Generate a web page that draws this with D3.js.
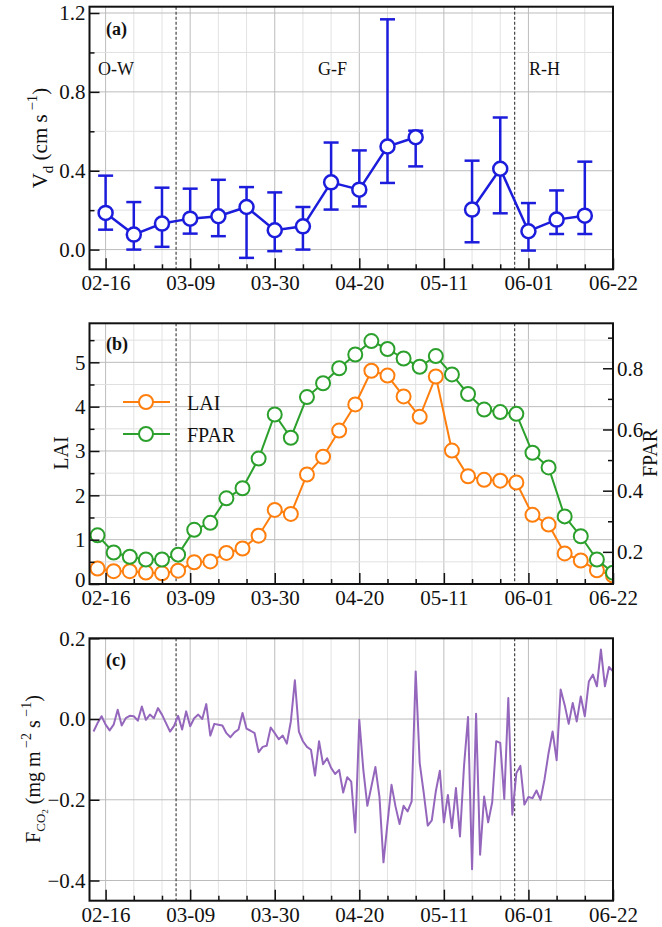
<!DOCTYPE html>
<html>
<head>
<meta charset="utf-8">
<script src="https://cdn.jsdelivr.net/npm/d3@7"></script>
<style>
  body { margin: 0; background: #fff; }
  svg { display: block; }
</style>
</head>
<body>
<svg id="chart" width="662" height="927"></svg>
<script>
// ---------- data ----------
const year = 2019;
const tickLabels = ["02-16", "03-09", "03-30", "04-20", "05-11", "06-01", "06-22"];
const phaseBounds = ["03-05 12:00", "05-28 14:00"];
const phaseNames = ["O-W", "G-F", "R-H"];
const phaseNameDates = ["02-18 14:00", "04-13 08:00", "06-05 00:00"];

// (a) weekly deposition velocity (cm/s), mean with lower/upper bounds
const vdDates = ["02-16", "02-23", "03-02", "03-09", "03-16", "03-23", "03-30", "04-06", "04-13",
                 "04-20", "04-27", "05-04", "05-11", "05-18", "05-25", "06-01", "06-08", "06-15"];
const vdMean = [0.186, 0.076, 0.132, 0.157, 0.169, 0.216, 0.098, 0.118, 0.341,
                0.304, 0.523, 0.570, null, 0.203, 0.410, 0.093, 0.152, 0.172];
const vdLow  = [0.101, 0.000, 0.014, 0.081, 0.068, -0.042, -0.008, 0.000, 0.203,
                0.219, 0.338, 0.422, null, 0.037, 0.184, -0.005, 0.079, 0.079];
const vdHigh = [0.375, 0.241, 0.314, 0.309, 0.354, 0.317, 0.290, 0.216, 0.543,
                0.503, 1.168, 0.603, null, 0.451, 0.670, 0.236, 0.300, 0.446];

// (b) 4-day LAI and FPAR
const vegDates = ["02-14", "02-18", "02-22", "02-26", "03-02", "03-06", "03-10", "03-14", "03-18",
                  "03-22", "03-26", "03-30", "04-03", "04-07", "04-11", "04-15", "04-19", "04-23",
                  "04-27", "05-01", "05-05", "05-09", "05-13", "05-17", "05-21", "05-25", "05-29",
                  "06-02", "06-06", "06-10", "06-14", "06-18", "06-22"];
const lai  = [0.35, 0.29, 0.29, 0.26, 0.24, 0.30, 0.49, 0.51, 0.70, 0.80, 1.09, 1.67, 1.58,
              2.47, 2.87, 3.46, 4.05, 4.81, 4.70, 4.23, 3.77, 4.68, 3.01, 2.43, 2.35, 2.33,
              2.29, 1.56, 1.34, 0.69, 0.53, 0.31, 0.19];
const fpar = [0.254, 0.198, 0.184, 0.175, 0.175, 0.191, 0.272, 0.295, 0.375, 0.408, 0.505,
              0.649, 0.573, 0.706, 0.751, 0.800, 0.845, 0.889, 0.863, 0.832, 0.805, 0.840,
              0.780, 0.716, 0.665, 0.657, 0.651, 0.524, 0.476, 0.316, 0.251, 0.175, 0.132];

// (c) daily CO2 flux (mg m-2 s-1), starting 02-13
const fco2Start = "02-13";
const fco2 = [
  -0.031, -0.010, 0.007, -0.014, -0.028, -0.014, 0.023, -0.016, 0.002, 0.008,
   0.007, -0.004, 0.031, -0.002, 0.011, 0.002, 0.027, 0.011, -0.010, -0.031,
  -0.017, 0.008, -0.026, 0.019, -0.018, 0.002, 0.011, 0.000, 0.037, -0.041,
  -0.012, -0.014, -0.016, -0.035, -0.045, -0.033, -0.026, 0.015, -0.024, -0.029,
  -0.035, -0.082, -0.069, -0.066, -0.021, -0.035, -0.050, -0.041, -0.061, -0.006,
   0.096, -0.031, -0.055, -0.069, -0.076, -0.140, -0.055, -0.112, -0.097, -0.121,
  -0.136, -0.126, -0.182, -0.144, -0.155, -0.281, -0.002, -0.126, -0.215, -0.167,
  -0.119, -0.192, -0.355, -0.258, -0.163, -0.217, -0.260, -0.215, -0.229, -0.204,
   0.118, -0.109, -0.183, -0.264, -0.251, -0.179, -0.128, -0.256, -0.188, -0.270,
  -0.171, -0.291, -0.117, 0.005, -0.372, 0.013, -0.336, -0.192, -0.256, -0.206,
  -0.055, -0.059, -0.198, 0.052, -0.237, -0.134, -0.116, -0.212, -0.193, -0.196,
  -0.177, -0.200, -0.149, -0.084, -0.031, -0.102, 0.073, 0.035, -0.012, 0.040,
  -0.006, 0.056, 0.007, 0.093, 0.110, 0.081, 0.172, 0.081, 0.129, 0.118
];

// ---------- helpers ----------
const SERIF = '"Liberation Serif", "Times New Roman", Times, serif';
const md = s => d3.utcParse("%Y-%m-%d")(`${year}-${s}`);
const mdh = s => d3.utcParse("%Y-%m-%d %H:%M")(`${year}-${s}`);

const svg = d3.select("#chart").attr("font-family", SERIF);

const x = d3.scaleUtc().domain([md("02-12"), md("06-22")]).range([89.5, 613]);
const [xl, xr] = x.range();
const majorTicks = tickLabels.map(md);
const isMajor = d => majorTicks.some(m => +m === +d);
const weekTicks = d3.utcDay.range(md("02-16"), md("06-23"), 7);
const minorTicks = weekTicks.filter(d => !isMajor(d));

function styleAxis(g, size) {
  g.select(".domain").remove();
  g.attr("font-family", SERIF).attr("font-size", size);
  g.selectAll(".tick line").attr("stroke", "#111").attr("stroke-width", 1.5);
  g.selectAll(".tick text").attr("fill", "#111");
}

function drawFrame(top, bottom, y, opt) {
  const g = svg.append("g");
  // vertical weekly grid
  g.append("g").selectAll("line").data(weekTicks).join("line")
    .attr("x1", d => x(d)).attr("x2", d => x(d))
    .attr("y1", top).attr("y2", bottom)
    .attr("stroke", d => isMajor(d) ? "#bcbcbc" : "#e2e2e2")
    .attr("stroke-width", 1);
  // horizontal grid
  g.append("g").selectAll("line").data(opt.hMinor).join("line")
    .attr("x1", xl).attr("x2", xr)
    .attr("y1", d => y(d)).attr("y2", d => y(d))
    .attr("stroke", "#e0e0e0").attr("stroke-width", 1);
  g.append("g").selectAll("line").data(opt.hMajor).join("line")
    .attr("x1", xl).attr("x2", xr)
    .attr("y1", d => y(d)).attr("y2", d => y(d))
    .attr("stroke", "#bcbcbc").attr("stroke-width", 1);
  // phase boundaries
  g.append("g").selectAll("line").data(phaseBounds.map(mdh)).join("line")
    .attr("x1", d => x(d)).attr("x2", d => x(d))
    .attr("y1", top).attr("y2", bottom)
    .attr("stroke", "#333").attr("stroke-width", 1.1)
    .attr("stroke-dasharray", "3,2");
  return g;
}

function drawAxes(top, bottom, y, opt) {
  // bottom axis, ticks pointing inward
  const bx = svg.append("g").attr("transform", `translate(0,${bottom})`)
    .call(d3.axisBottom(x).tickValues(majorTicks).tickSize(-11).tickPadding(6)
      .tickFormat((d, i) => tickLabels[i]));
  styleAxis(bx, 21);
  const bxm = svg.append("g").attr("transform", `translate(0,${bottom})`)
    .call(d3.axisBottom(x).tickValues(minorTicks).tickSize(-5).tickFormat(""));
  styleAxis(bxm, 21);
  // left axis
  const ly = svg.append("g").attr("transform", `translate(${xl},0)`)
    .call(d3.axisLeft(y).tickValues(opt.yMajor).tickSize(-10).tickPadding(4).tickFormat(opt.fmt));
  styleAxis(ly, 21);
  if (opt.lowLabelLift) {
    // the lowest label sits just above the date labels
    ly.selectAll(".tick text").filter(d => d === opt.yMajor[0])
      .attr("dy", `${0.32 - opt.lowLabelLift}em`);
  }
  if (opt.yMinor.length) {
    const lym = svg.append("g").attr("transform", `translate(${xl},0)`)
      .call(d3.axisLeft(y).tickValues(opt.yMinor).tickSize(-5).tickFormat(""));
    styleAxis(lym, 21);
  }
  // border
  svg.append("rect").attr("x", xl).attr("y", top)
    .attr("width", xr - xl).attr("height", bottom - top)
    .attr("fill", "none").attr("stroke", "#111").attr("stroke-width", 2);
}

function panelLabel(txt, yb) {
  svg.append("text").attr("x", 106).attr("y", yb)
    .attr("font-size", 18).attr("font-weight", "bold").attr("fill", "#111").text(txt);
}

// ---------- (a) Vd ----------
{
  const top = 6.7, bottom = 269.3;
  const y = d3.scaleLinear().domain([-0.1, 1.232]).range([bottom, top]);
  drawFrame(top, bottom, y, { hMajor: [0, 0.4, 0.8, 1.2], hMinor: [0.2, 0.6, 1.0] });

  svg.append("g").selectAll("text").data(phaseNames).join("text")
    .attr("x", (d, i) => x(mdh(phaseNameDates[i])))
    .attr("y", 75).attr("text-anchor", "middle")
    .attr("font-size", 18).attr("fill", "#111").text(d => d);

  const blue = "#1c1cdc";
  const rows = vdDates.map((d, i) => ({ date: md(d), m: vdMean[i], lo: vdLow[i], hi: vdHigh[i] }));
  const valid = rows.filter(r => r.m != null);

  svg.append("path").datum(rows)
    .attr("fill", "none").attr("stroke", blue).attr("stroke-width", 2.5)
    .attr("d", d3.line().defined(r => r.m != null).x(r => x(r.date)).y(r => y(r.m)));

  const eb = svg.append("g").attr("stroke", blue).attr("stroke-width", 2.5);
  eb.selectAll(".v").data(valid).join("line")
    .attr("x1", r => x(r.date)).attr("x2", r => x(r.date))
    .attr("y1", r => y(r.lo)).attr("y2", r => y(r.hi));
  eb.selectAll(".ch").data(valid).join("line")
    .attr("x1", r => x(r.date) - 7.5).attr("x2", r => x(r.date) + 7.5)
    .attr("y1", r => y(r.hi)).attr("y2", r => y(r.hi));
  eb.selectAll(".cl").data(valid).join("line")
    .attr("x1", r => x(r.date) - 7.5).attr("x2", r => x(r.date) + 7.5)
    .attr("y1", r => y(r.lo)).attr("y2", r => y(r.lo));

  svg.append("g").selectAll("circle").data(valid).join("circle")
    .attr("cx", r => x(r.date)).attr("cy", r => y(r.m)).attr("r", 7)
    .attr("fill", "#fff").attr("stroke", blue).attr("stroke-width", 2.5);

  drawAxes(top, bottom, y, { yMajor: [0, 0.4, 0.8, 1.2], yMinor: [0.2, 0.6, 1.0], fmt: d3.format(".1f") });
  panelLabel("(a)", 35);

  const t = svg.append("text").attr("transform", `translate(47,138) rotate(-90)`)
    .attr("text-anchor", "middle").attr("font-size", 21).attr("fill", "#111");
  t.append("tspan").text("V");
  t.append("tspan").attr("dy", 6).attr("font-size", 15).text("d");
  t.append("tspan").attr("dy", -6).text(" (cm s");
  t.append("tspan").attr("dy", -10).attr("font-size", 15).text(" \u22121");
  t.append("tspan").attr("dy", 10).text(")");
}

// ---------- (b) LAI & FPAR ----------
{
  const top = 323.3, bottom = 584;
  const y = d3.scaleLinear().domain([0, 5.88]).range([bottom, top]);
  const yF = d3.scaleLinear().domain([0.095, 0.947]).range([bottom, top]);
  drawFrame(top, bottom, y, { hMajor: [1, 2, 3, 4, 5], hMinor: [0.5, 1.5, 2.5, 3.5, 4.5, 5.5] });

  const orange = "#ff7f0e", green = "#2ca02c";
  svg.append("clipPath").attr("id", "clipB").append("rect")
    .attr("x", xl).attr("y", top).attr("width", xr - xl).attr("height", bottom - top);
  const gp = svg.append("g").attr("clip-path", "url(#clipB)");
  const pts = vegDates.map((d, i) => ({ date: md(d), lai: lai[i], fpar: fpar[i] }));

  function series(key, sc, color) {
    gp.append("path").datum(pts).attr("fill", "none").attr("stroke", color).attr("stroke-width", 2)
      .attr("d", d3.line().x(p => x(p.date)).y(p => sc(p[key])));
    gp.append("g").selectAll("circle").data(pts).join("circle")
      .attr("cx", p => x(p.date)).attr("cy", p => sc(p[key])).attr("r", 7)
      .attr("fill", "#fff").attr("stroke", color).attr("stroke-width", 2);
  }
  series("lai", y, orange);
  series("fpar", yF, green);

  drawAxes(top, bottom, y, { yMajor: [0, 1, 2, 3, 4, 5], yMinor: [0.5, 1.5, 2.5, 3.5, 4.5, 5.5],
                             fmt: d3.format("d"), lowLabelLift: 0.2 });
  const ry = svg.append("g").attr("transform", `translate(${xr},0)`)
    .call(d3.axisRight(yF).tickValues([0.2, 0.4, 0.6, 0.8]).tickSize(-10).tickPadding(4).tickFormat(d3.format(".1f")));
  styleAxis(ry, 21);
  const rym = svg.append("g").attr("transform", `translate(${xr},0)`)
    .call(d3.axisRight(yF).tickValues([0.3, 0.5, 0.7, 0.9]).tickSize(-5).tickFormat(""));
  styleAxis(rym, 21);

  // legend
  const legend = [{ name: "LAI", color: orange, yy: 402 }, { name: "FPAR", color: green, yy: 434 }];
  const lg = svg.append("g");
  legend.forEach(e => {
    lg.append("line").attr("x1", 123).attr("x2", 170).attr("y1", e.yy).attr("y2", e.yy)
      .attr("stroke", e.color).attr("stroke-width", 2);
    lg.append("circle").attr("cx", 146).attr("cy", e.yy).attr("r", 7)
      .attr("fill", "#fff").attr("stroke", e.color).attr("stroke-width", 2);
    lg.append("text").attr("x", 187).attr("y", e.yy + 8).attr("font-size", 20)
      .attr("fill", "#111").text(e.name);
  });

  panelLabel("(b)", 350);
  svg.append("text").attr("transform", `translate(68,453) rotate(-90)`)
    .attr("text-anchor", "middle").attr("font-size", 20).attr("fill", "#111").text("LAI");
  svg.append("text").attr("transform", `translate(657,453) rotate(-90)`)
    .attr("text-anchor", "middle").attr("font-size", 20).attr("fill", "#111").text("FPAR");
}

// ---------- (c) CO2 flux ----------
{
  const top = 638.3, bottom = 900.7;
  const y = d3.scaleLinear().domain([-0.45, 0.2]).range([bottom, top]);
  drawFrame(top, bottom, y, { hMajor: [-0.4, -0.2, 0, 0.2], hMinor: [] });

  const start = md(fco2Start);
  const series = fco2.map((v, i) => ({ date: d3.utcDay.offset(start, i), v }));
  svg.append("path").datum(series)
    .attr("fill", "none").attr("stroke", "#9467bd").attr("stroke-width", 2)
    .attr("stroke-linejoin", "round")
    .attr("d", d3.line().x(p => x(p.date)).y(p => y(p.v)));

  drawAxes(top, bottom, y, { yMajor: [-0.4, -0.2, 0, 0.2], yMinor: [], fmt: d3.format(".1f") });
  panelLabel("(c)", 666);

  const t = svg.append("text").attr("transform", `translate(40,769) rotate(-90)`)
    .attr("text-anchor", "middle").attr("font-size", 20).attr("fill", "#111");
  t.append("tspan").text("F");
  t.append("tspan").attr("dy", 5).attr("font-size", 13).text("CO");
  t.append("tspan").attr("dy", 3).attr("font-size", 9).text("2");
  t.append("tspan").attr("dy", -8).text(" (mg m");
  t.append("tspan").attr("dy", -9).attr("font-size", 14).text(" \u22122");
  t.append("tspan").attr("dy", 9).text(" s");
  t.append("tspan").attr("dy", -9).attr("font-size", 14).text(" \u22121");
  t.append("tspan").attr("dy", 9).text(")");
}
</script>
</body>
</html>
